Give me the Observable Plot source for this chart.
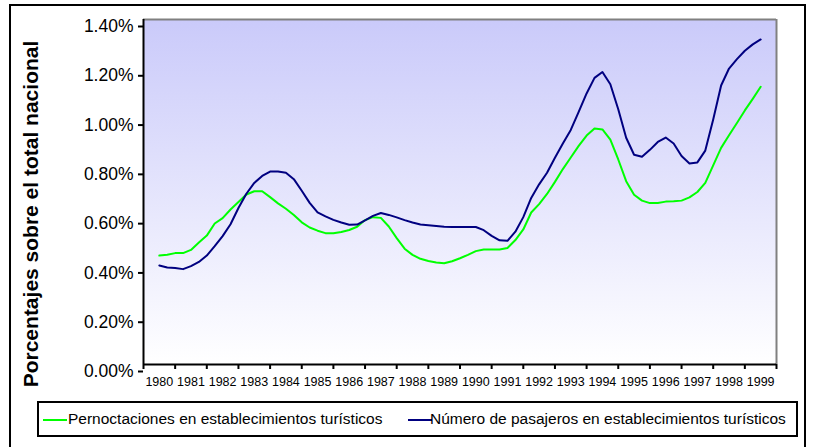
<!DOCTYPE html>
<html>
<head>
<meta charset="utf-8">
<script src="https://cdn.jsdelivr.net/npm/d3@7"></script>
<script src="https://cdn.jsdelivr.net/npm/@observablehq/plot@0.6"></script>
<style>
  body { margin: 0; background: #fff; font-family: "Liberation Sans", Arial, sans-serif; }
  #wrap { position: relative; width: 815px; height: 447px; overflow: hidden; }
  #chart { position: absolute; left: 0; top: 0; }
  #border { position: absolute; left: 9px; top: 4px; width: 797px; height: 470px; box-sizing: border-box; border: 2px solid #000; pointer-events: none; }
  #legend { position: absolute; left: 37px; top: 401px; width: 761px; height: 36px; box-sizing: border-box; border: 2px solid #000; background: #fff; }
  .sw { position: absolute; top: 16px; width: 24px; height: 2px; }
  .lt { position: absolute; top: 0; height: 32px; line-height: 32px; font-size: 15.5px; color: #000; white-space: nowrap; }
</style>
</head>
<body>
<div id="wrap">
  <div id="chart"></div>
  <div id="legend"></div>
  <div id="border"></div>
</div>
<script>
// Category (year) labels on the x axis
const yearLabels = ["1980","1981","1982","1983","1984","1985","1986","1987","1988","1989",
                    "1990","1991","1992","1993","1994","1995","1996","1997","1998","1999"];
// Quarterly readings, 1980 Q1 .. 1999 Q1 (percent of national total)
const pernoctaciones = [
  0.442,0.445,0.452,0.452,0.465,0.495,0.523,0.572,0.594,0.629,
  0.659,0.690,0.703,0.703,0.679,0.654,0.632,0.607,0.577,0.556,
  0.543,0.533,0.533,0.538,0.546,0.559,0.586,0.598,0.595,0.560,
  0.513,0.470,0.445,0.429,0.420,0.414,0.411,0.419,0.431,0.445,
  0.460,0.467,0.467,0.467,0.473,0.505,0.548,0.617,0.651,0.692,
  0.741,0.793,0.840,0.887,0.929,0.958,0.954,0.913,0.832,0.744,
  0.689,0.665,0.655,0.655,0.661,0.662,0.665,0.678,0.700,0.737,
  0.808,0.879,0.930,0.980,1.031,1.078,1.127
];
const pasajeros = [
  0.402,0.394,0.392,0.387,0.399,0.416,0.442,0.480,0.521,0.569,
  0.635,0.693,0.737,0.765,0.783,0.783,0.778,0.752,0.705,0.656,
  0.617,0.601,0.587,0.576,0.567,0.568,0.585,0.603,0.615,0.607,
  0.597,0.586,0.576,0.568,0.565,0.562,0.559,0.558,0.558,0.558,
  0.558,0.545,0.522,0.504,0.502,0.539,0.598,0.676,0.731,0.778,
  0.839,0.897,0.952,1.025,1.100,1.163,1.187,1.137,1.036,0.920,
  0.851,0.843,0.871,0.903,0.921,0.897,0.846,0.816,0.820,0.868,
  0.994,1.132,1.201,1.239,1.273,1.299,1.319
];
const yTicks = [0, 0.2, 0.4, 0.6, 0.8, 1.0, 1.2, 1.4];
const yTitle = "Porcentajes sobre el total nacional";
const seriesNames = ["Pernoctaciones en establecimientos turísticos", "Número de pasajeros en establecimientos turísticos"];
const seriesColors = ["#00FF00", "#000080"];

const firstYear = +yearLabels[0];
const rowsA = pernoctaciones.map((v, i) => ({t: firstYear + i / 4, v}));
const rowsB = pasajeros.map((v, i) => ({t: firstYear + i / 4, v}));
const yearPos = yearLabels.map(Number);
const bandEdges = yearPos.map(d => d - 0.5).concat([yearPos[yearPos.length - 1] + 0.5]);
const xDomain = [bandEdges[0], bandEdges[bandEdges.length - 1]];
const yDomain = [yTicks[0], yTicks[yTicks.length - 1]];

const chart = Plot.plot({
  width: 815,
  height: 400,
  marginLeft: 143,
  marginRight: 39,
  marginTop: 19,
  marginBottom: 36,
  style: { background: "transparent", fontFamily: "'Liberation Sans', Arial, sans-serif", color: "#000" },
  x: { type: "linear", domain: xDomain, axis: null },
  y: { type: "linear", domain: yDomain, axis: null },
  marks: [
    Plot.frame({ fill: "url(#bgGrad)", stroke: null }),
    Plot.ruleY([yDomain[1]], { stroke: "#808080", strokeWidth: 2 }),
    Plot.ruleX([xDomain[1]], { stroke: "#808080", strokeWidth: 2 }),
    Plot.line(rowsA, { x: "t", y: "v", stroke: seriesColors[0], strokeWidth: 2 }),
    Plot.line(rowsB, { x: "t", y: "v", stroke: seriesColors[1], strokeWidth: 2 }),
    Plot.ruleX([xDomain[0]], { stroke: "#000", strokeWidth: 2 }),
    Plot.ruleY([yDomain[0]], { stroke: "#000", strokeWidth: 2 }),
    Plot.axisY(yTicks, { tickSize: 5, tickPadding: 5, strokeWidth: 2, stroke: "#000",
      tickFormat: d => d.toFixed(2) + "%", fontSize: 17.5, dy: 7, label: null }),
    Plot.axisX(bandEdges, { tickSize: 5, strokeWidth: 2, stroke: "#000", tickFormat: () => "", label: null }),
    Plot.axisX(yearPos, { tickSize: 0, tickPadding: 12.5, tickFormat: d => yearLabels[yearPos.indexOf(d)],
      fontSize: 12.5, label: null }),
    Plot.text([yTitle], { frameAnchor: "left", textAnchor: "middle", dx: -112, dy: 22, rotate: -90, fontSize: 21,
      fontWeight: "bold", fill: "#000", text: d => d })
  ]
});

const defs = d3.select(chart).insert("defs", ":first-child");
const grad = defs.append("linearGradient").attr("id", "bgGrad")
  .attr("x1", 0).attr("y1", 0).attr("x2", 0).attr("y2", 1);
grad.append("stop").attr("offset", "0%").attr("stop-color", "#CACAFA");
grad.append("stop").attr("offset", "100%").attr("stop-color", "#FFFFFF");

document.getElementById("chart").appendChild(chart);

const legend = document.getElementById("legend");
const itemPos = [[4, 29], [369, 391]];
seriesNames.forEach((name, i) => {
  const sw = document.createElement("div");
  sw.className = "sw";
  sw.style.left = itemPos[i][0] + "px";
  sw.style.background = seriesColors[i];
  legend.appendChild(sw);
  const t = document.createElement("div");
  t.className = "lt";
  t.style.left = itemPos[i][1] + "px";
  t.textContent = name;
  legend.appendChild(t);
});
</script>
</body>
</html>
